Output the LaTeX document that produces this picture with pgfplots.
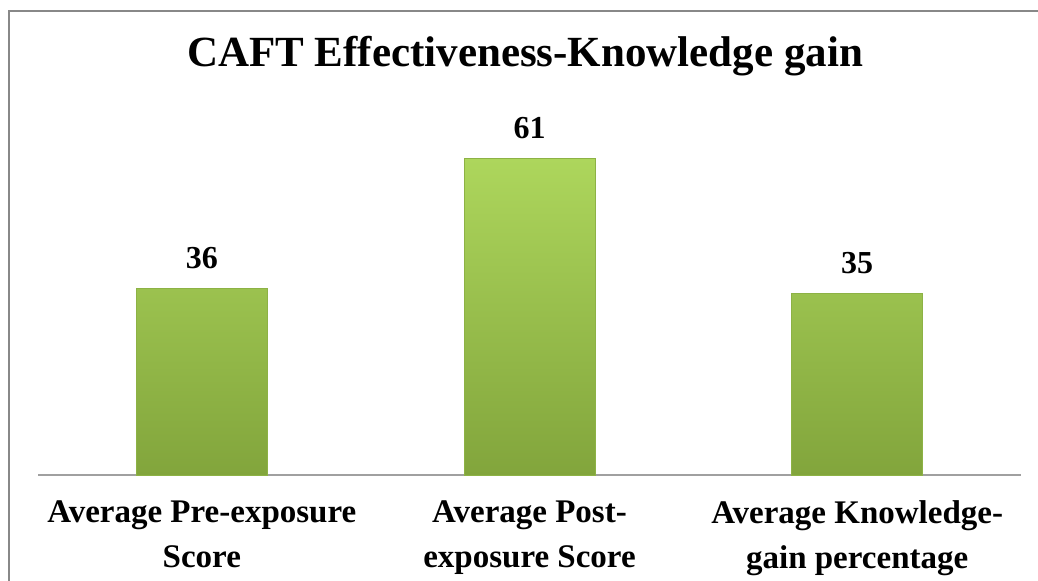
\documentclass[border=0pt]{standalone}
\usepackage{pgfplots}
\pgfplotsset{compat=1.18}
\usepackage{fontspec}
\setmainfont{Liberation Serif}
\definecolor{framegray}{HTML}{888888}
\definecolor{bartop}{HTML}{ADD65C}
\definecolor{barbot}{HTML}{82A53C}
\definecolor{barline}{HTML}{8DB245}
\definecolor{basegray}{HTML}{A0A0A0}
\begin{document}
\begin{tikzpicture}
\path[use as bounding box] (0,0) rectangle (519pt,290.5pt);
\draw[framegray, line width=1pt] (4.25pt,0) -- (4.25pt,284.75pt) -- (519pt,284.75pt);
\node[font=\bfseries\fontsize{21.5}{25}\selectfont, anchor=base] at (262.5pt,257pt) {CAFT Effectiveness-Knowledge gain};
\begin{axis}[
  at={(19pt,53pt)}, anchor=south west,
  scale only axis, width=491.5pt, height=181.5pt,
  xmin=-0.5, xmax=2.5, ymin=0, ymax=70,
  axis lines*=left,
  y axis line style={draw=none},
  x axis line style={basegray, line width=1pt, -},
  ytick=\empty,
  xtick=data,
  major tick length=0pt,
  xticklabels={{Average Pre-exposure\\Score},{Average Post-\\exposure Score},{Average Knowledge-\\gain percentage}},
  xticklabel style={font=\bfseries\fontsize{16.5}{22.5}\selectfont, align=center, inner sep=0pt, anchor=north, yshift=-12.5pt},
  ybar, bar width=65.5pt, bar shift=0pt,
  nodes near coords,
  /pgf/number format/assume math mode=true,
  nodes near coords style={font=\bfseries\fontsize{16}{18}\selectfont, inner sep=0pt, anchor=south, yshift=9.5pt},
  clip=false,
]
\addplot[draw=barline, line width=0.4pt, top color=bartop, bottom color=barbot] coordinates {(0,36) (1,61) (2,35)};
\end{axis}
\end{tikzpicture}
\end{document}
